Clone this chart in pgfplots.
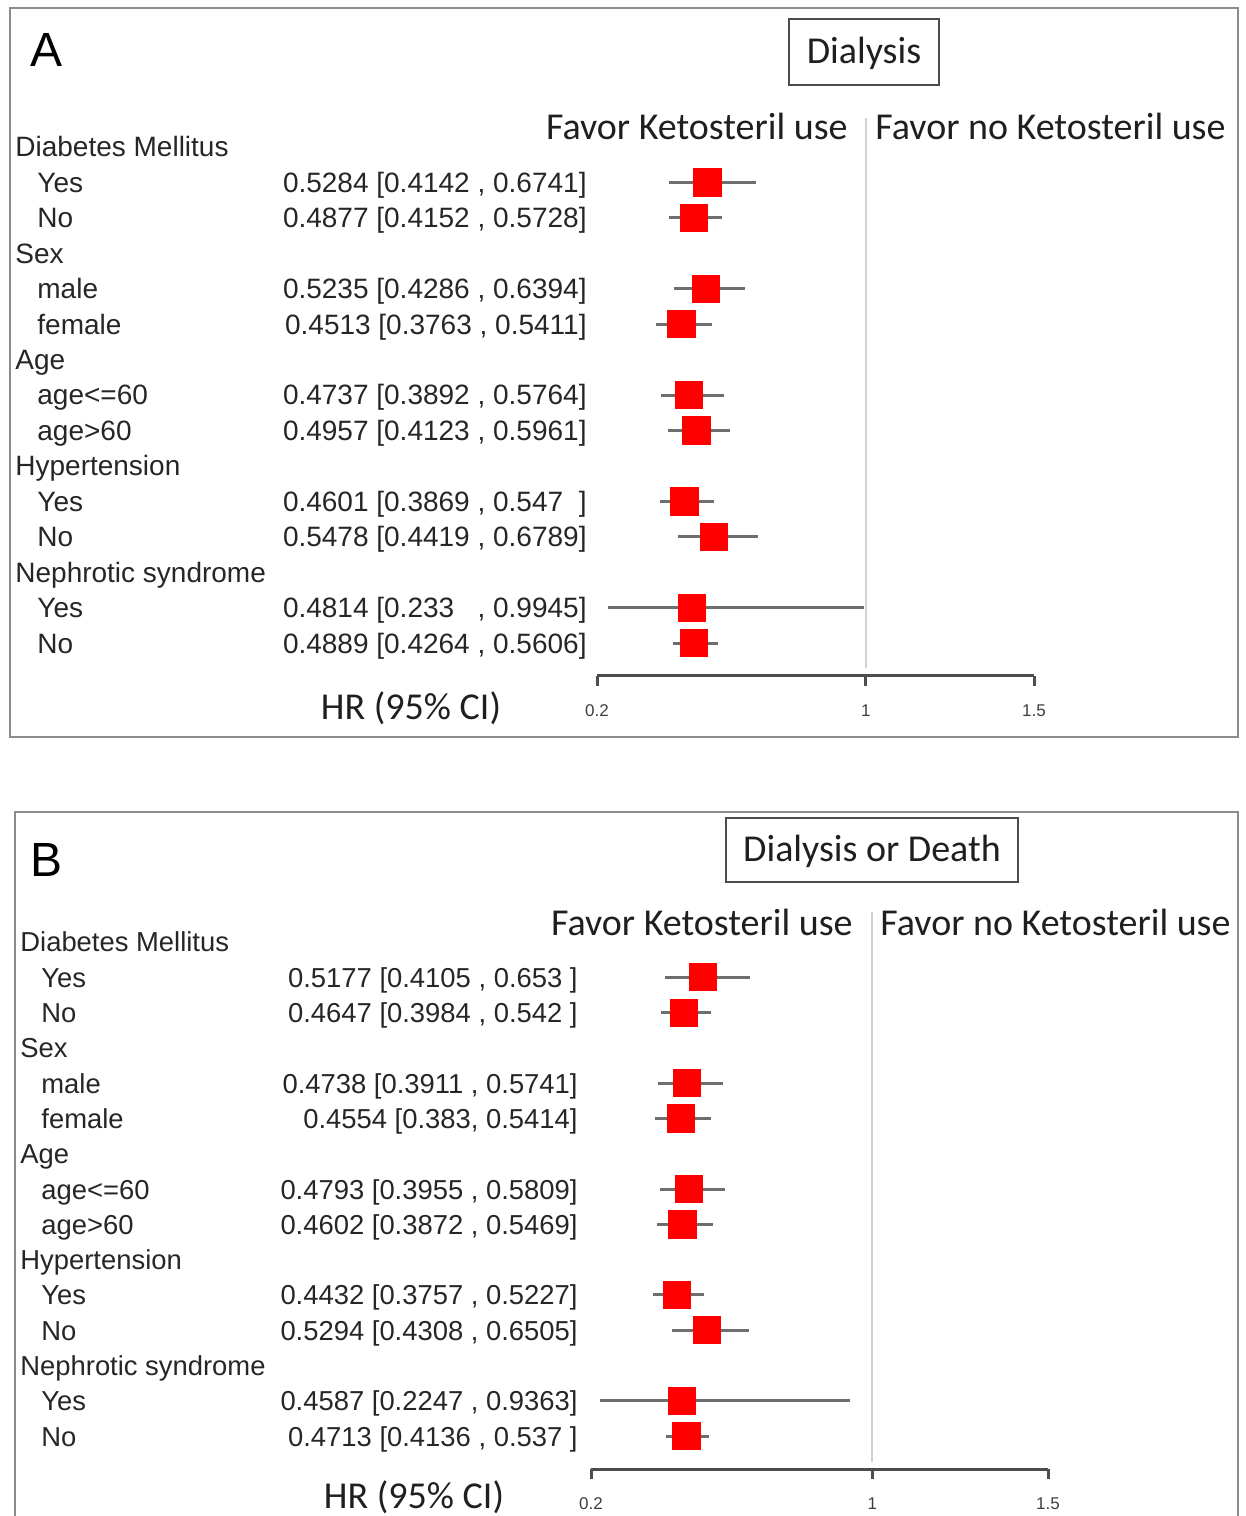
\documentclass[border=0pt]{standalone}
\usepackage{pgfplots}
\pgfplotsset{compat=1.18}
\usepackage{pgfplotstable}
\usepackage{fontspec}
\setmainfont{Liberation Sans}
\newfontfamily\cali{Carlito}
\definecolor{cigray}{HTML}{6E6E6E}
\definecolor{axgray}{HTML}{4D4D4D}
\definecolor{refgray}{HTML}{D2D2D2}
\definecolor{framegray}{HTML}{8C8C8C}
\definecolor{txt}{HTML}{262626}
\newcommand{\lab}{\fontsize{14}{16}\selectfont\color{txt}}
\newcommand{\labB}{\fontsize{13.7}{16}\selectfont\color{txt}}
\newcommand{\bigcal}{\cali\fontsize{19}{22}\selectfont\color{black!88}}

\pgfplotstableread{
row hr lo hi
-1 0.5284 0.4142 0.6741
-2 0.4877 0.4152 0.5728
-4 0.5235 0.4286 0.6394
-5 0.4513 0.3763 0.5411
-7 0.4737 0.3892 0.5764
-8 0.4957 0.4123 0.5961
-10 0.4601 0.3869 0.547
-11 0.5478 0.4419 0.6789
-13 0.4814 0.233 0.9945
-14 0.4889 0.4264 0.5606
}\dataA

\pgfplotstableread{
row hr lo hi
-1 0.5177 0.4105 0.653
-2 0.4647 0.3984 0.542
-4 0.4738 0.3911 0.5741
-5 0.4554 0.383 0.5414
-7 0.4793 0.3955 0.5809
-8 0.4602 0.3872 0.5469
-10 0.4432 0.3757 0.5227
-11 0.5294 0.4308 0.6505
-13 0.4587 0.2247 0.9363
-14 0.4713 0.4136 0.537
}\dataB

\pgfplotsset{forest/.style={
  scale only axis, anchor=south west, clip=false,
  xmin=0.2, xmax=1.5,
  axis x line=bottom, axis y line=none,
  x axis line style={-, line width=1.5pt, color=axgray},
  xtick={0.2,1,1.5}, xticklabels={0.2,1,1.5},
  xtick align=outside, major tick length=5pt,
  xtick style={line width=1.5pt, color=axgray},
  xticklabel style={font=\fontsize{8.5}{10}\selectfont, text=axgray!80!black, inner sep=0pt, anchor=north, yshift=-9pt},
}}

\begin{document}
\begin{tikzpicture}[x=0.5pt,y=0.5pt]
\useasboundingbox (0,0) rectangle (1246,1516);

% ---------------- Panel A ----------------
\draw[framegray, line width=1pt] (10,1508) rectangle (1238,779);
\node[anchor=base west, inner sep=0, font=\fontsize{24}{28}\selectfont] at (30,1449) {A};
\draw[axgray, line width=1.2pt] (789,1497) rectangle (939,1431);
\node[anchor=base, inner sep=0, font=\bigcal] at (864,1452) {Dialysis};
\node[anchor=base east, inner sep=0, font=\bigcal] at (848,1376) {Favor Ketosteril use};
\node[anchor=base west, inner sep=0, font=\bigcal] at (875,1376) {Favor no Ketosteril use};
\node[anchor=base, inner sep=0, font=\bigcal] at (411,796) {HR (95\% CI)};

\begin{axis}[forest, at={(298.5pt,420pt)}, width=218.5pt, height=279pt,
  ymin=-14.930, ymax=0.8185]
\addplot[refgray, line width=1pt] coordinates {(1,-14.70) (1,0.8185)};
\addplot[only marks, mark=*, mark size=0.1pt, color=red,
  error bars/.cd, x dir=both, x explicit, error mark=none,
  error bar style={line width=1.5pt, color=cigray}]
  table[x=hr, y=row, x error plus expr=\thisrow{hi}-\thisrow{hr}, x error minus expr=\thisrow{hr}-\thisrow{lo}] {\dataA};
\addplot[only marks, mark=square*, mark size=6.8pt, color=red, mark options={line width=0.4pt}]
  table[x=hr, y=row] {\dataA};
\end{axis}

\node[anchor=base west, inner sep=0, font=\lab] at (15,{1359-35.43*0}) {Diabetes Mellitus};
\node[anchor=base west, inner sep=0, font=\lab] at (37,{1359-35.43*1}) {Yes};
\node[anchor=base west, inner sep=0, font=\lab] at (37,{1359-35.43*2}) {No};
\node[anchor=base west, inner sep=0, font=\lab] at (15,{1359-35.43*3}) {Sex};
\node[anchor=base west, inner sep=0, font=\lab] at (37,{1359-35.43*4}) {male};
\node[anchor=base west, inner sep=0, font=\lab] at (37,{1359-35.43*5}) {female};
\node[anchor=base west, inner sep=0, font=\lab] at (15,{1359-35.43*6}) {Age};
\node[anchor=base west, inner sep=0, font=\lab] at (37,{1359-35.43*7}) {age<=60};
\node[anchor=base west, inner sep=0, font=\lab] at (37,{1359-35.43*8}) {age>60};
\node[anchor=base west, inner sep=0, font=\lab] at (15,{1359-35.43*9}) {Hypertension};
\node[anchor=base west, inner sep=0, font=\lab] at (37,{1359-35.43*10}) {Yes};
\node[anchor=base west, inner sep=0, font=\lab] at (37,{1359-35.43*11}) {No};
\node[anchor=base west, inner sep=0, font=\lab] at (15,{1359-35.43*12}) {Nephrotic syndrome};
\node[anchor=base west, inner sep=0, font=\lab] at (37,{1359-35.43*13}) {Yes};
\node[anchor=base west, inner sep=0, font=\lab] at (37,{1359-35.43*14}) {No};

\node[anchor=base east, inner sep=0, font=\lab] at (587,{1359-35.43*1}) {0.5284 [0.4142 , 0.6741]};
\node[anchor=base east, inner sep=0, font=\lab] at (587,{1359-35.43*2}) {0.4877 [0.4152 , 0.5728]};
\node[anchor=base east, inner sep=0, font=\lab] at (587,{1359-35.43*4}) {0.5235 [0.4286 , 0.6394]};
\node[anchor=base east, inner sep=0, font=\lab] at (587,{1359-35.43*5}) {0.4513 [0.3763 , 0.5411]};
\node[anchor=base east, inner sep=0, font=\lab] at (587,{1359-35.43*7}) {0.4737 [0.3892 , 0.5764]};
\node[anchor=base east, inner sep=0, font=\lab] at (587,{1359-35.43*8}) {0.4957 [0.4123 , 0.5961]};
\node[anchor=base east, inner sep=0, font=\lab] at (587,{1359-35.43*10}) {0.4601 [0.3869 , 0.547\phantom{0}]};
\node[anchor=base east, inner sep=0, font=\lab] at (587,{1359-35.43*11}) {0.5478 [0.4419 , 0.6789]};
\node[anchor=base east, inner sep=0, font=\lab] at (587,{1359-35.43*13}) {0.4814 [0.233\phantom{0} , 0.9945]};
\node[anchor=base east, inner sep=0, font=\lab] at (587,{1359-35.43*14}) {0.4889 [0.4264 , 0.5606]};

% ---------------- Panel B ----------------
\draw[framegray, line width=1pt] (15,704) rectangle (1238,-20);
\node[anchor=base west, inner sep=0, font=\fontsize{24}{28}\selectfont] at (30,639) {B};
\draw[axgray, line width=1.2pt] (726,698) rectangle (1018,634);
\node[anchor=base, inner sep=0, font=\bigcal] at (872,654) {Dialysis or Death};
\node[anchor=base east, inner sep=0, font=\bigcal] at (853,580) {Favor Ketosteril use};
\node[anchor=base west, inner sep=0, font=\bigcal] at (880,580) {Favor no Ketosteril use};
\node[anchor=base, inner sep=0, font=\bigcal] at (414,7) {HR (95\% CI)};

\begin{axis}[forest, at={(295.5pt,23.5pt)}, width=228.5pt, height=278.5pt,
  ymin=-14.934, ymax=0.850]
\addplot[refgray, line width=1pt] coordinates {(1,-14.736) (1,0.850)};
\addplot[only marks, mark=*, mark size=0.1pt, color=red,
  error bars/.cd, x dir=both, x explicit, error mark=none,
  error bar style={line width=1.5pt, color=cigray}]
  table[x=hr, y=row, x error plus expr=\thisrow{hi}-\thisrow{hr}, x error minus expr=\thisrow{hr}-\thisrow{lo}] {\dataB};
\addplot[only marks, mark=square*, mark size=6.8pt, color=red, mark options={line width=0.4pt}]
  table[x=hr, y=row] {\dataB};
\end{axis}

\node[anchor=base west, inner sep=0, font=\labB] at (20,{564-35.29*0}) {Diabetes Mellitus};
\node[anchor=base west, inner sep=0, font=\labB] at (41,{564-35.29*1}) {Yes};
\node[anchor=base west, inner sep=0, font=\labB] at (41,{564-35.29*2}) {No};
\node[anchor=base west, inner sep=0, font=\labB] at (20,{564-35.29*3}) {Sex};
\node[anchor=base west, inner sep=0, font=\labB] at (41,{564-35.29*4}) {male};
\node[anchor=base west, inner sep=0, font=\labB] at (41,{564-35.29*5}) {female};
\node[anchor=base west, inner sep=0, font=\labB] at (20,{564-35.29*6}) {Age};
\node[anchor=base west, inner sep=0, font=\labB] at (41,{564-35.29*7}) {age<=60};
\node[anchor=base west, inner sep=0, font=\labB] at (41,{564-35.29*8}) {age>60};
\node[anchor=base west, inner sep=0, font=\labB] at (20,{564-35.29*9}) {Hypertension};
\node[anchor=base west, inner sep=0, font=\labB] at (41,{564-35.29*10}) {Yes};
\node[anchor=base west, inner sep=0, font=\labB] at (41,{564-35.29*11}) {No};
\node[anchor=base west, inner sep=0, font=\labB] at (20,{564-35.29*12}) {Nephrotic syndrome};
\node[anchor=base west, inner sep=0, font=\labB] at (41,{564-35.29*13}) {Yes};
\node[anchor=base west, inner sep=0, font=\labB] at (41,{564-35.29*14}) {No};

\node[anchor=base east, inner sep=0, font=\labB] at (578,{564-35.29*1}) {0.5177 [0.4105 , 0.653 ]};
\node[anchor=base east, inner sep=0, font=\labB] at (578,{564-35.29*2}) {0.4647 [0.3984 , 0.542 ]};
\node[anchor=base east, inner sep=0, font=\labB] at (578,{564-35.29*4}) {0.4738 [0.3911 , 0.5741]};
\node[anchor=base east, inner sep=0, font=\labB] at (578,{564-35.29*5}) {0.4554 [0.383, 0.5414]};
\node[anchor=base east, inner sep=0, font=\labB] at (578,{564-35.29*7}) {0.4793 [0.3955 , 0.5809]};
\node[anchor=base east, inner sep=0, font=\labB] at (578,{564-35.29*8}) {0.4602 [0.3872 , 0.5469]};
\node[anchor=base east, inner sep=0, font=\labB] at (578,{564-35.29*10}) {0.4432 [0.3757 , 0.5227]};
\node[anchor=base east, inner sep=0, font=\labB] at (578,{564-35.29*11}) {0.5294 [0.4308 , 0.6505]};
\node[anchor=base east, inner sep=0, font=\labB] at (578,{564-35.29*13}) {0.4587 [0.2247 , 0.9363]};
\node[anchor=base east, inner sep=0, font=\labB] at (578,{564-35.29*14}) {0.4713 [0.4136 , 0.537 ]};
\end{tikzpicture}
\end{document}
